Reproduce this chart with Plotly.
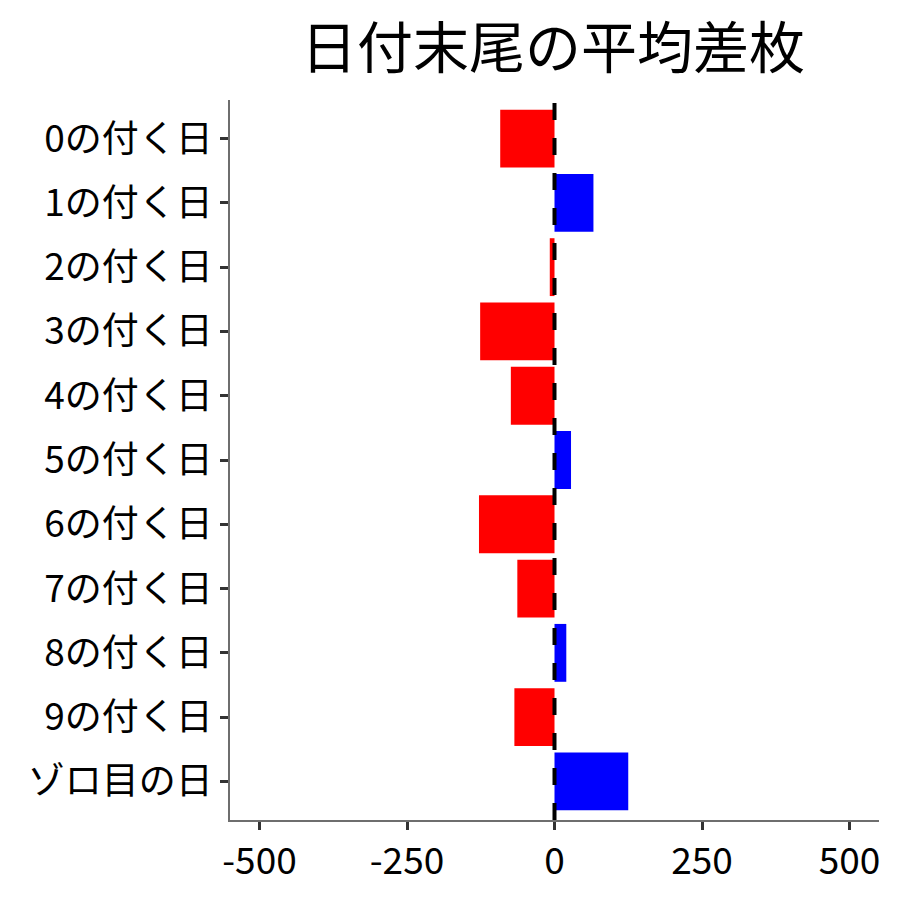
import plotly.graph_objects as go

# 日付末尾ごとの平均差枚
categories = ["0の付く日", "1の付く日", "2の付く日", "3の付く日", "4の付く日",
              "5の付く日", "6の付く日", "7の付く日", "8の付く日", "9の付く日",
              "ゾロ目の日"]
avg_diff = [-92, 66, -8, -126, -74, 28, -128, -63, 20, -68, 125]

x_ticks = [-500, -250, 0, 250, 500]

# プラスは青、マイナスは赤
colors = ["#0000FF" if v > 0 else "#FF0000" for v in avg_diff]

fig = go.Figure()

fig.add_trace(
    go.Bar(x=avg_diff, y=categories, orientation="h", width=0.9,
           marker=dict(color=colors, line=dict(width=0)))
)

# 0の位置に破線
fig.add_shape(type="line", xref="x", yref="paper", x0=0, x1=0, y0=0, y1=1,
              line=dict(color="black", width=4, dash="17px,18px"))

font_name = "Noto Sans CJK JP"

fig.update_layout(
    title=dict(text="日付末尾の平均差枚", x=0.6144, xanchor="center",
               y=0.946, yanchor="middle",
               font=dict(family=font_name, size=56, color="black")),
    font=dict(family=font_name, color="black"),
    plot_bgcolor="white",
    paper_bgcolor="white",
    showlegend=False,
    width=900,
    height=900,
    margin=dict(l=230, r=21, t=100, b=80),
    xaxis=dict(range=[-550, 550], tickvals=x_ticks, ticktext=[str(t) for t in x_ticks],
               showgrid=False, zeroline=False, showline=True, linecolor="#6e6e6e",
               linewidth=1.5, ticks="outside", ticklen=8, tickwidth=3,
               tickcolor="#333333", tickfont=dict(size=37, color="black")),
    yaxis=dict(categoryorder="array", categoryarray=categories,
               range=[10.6, -0.6], showgrid=False, zeroline=False,
               showline=True, linecolor="#6e6e6e", linewidth=1.5,
               ticks="outside", ticklen=8, tickwidth=3, tickcolor="#333333",
               tickfont=dict(size=37, color="black")),
)

# ページ余白をなくして図を左上に合わせる
fig.write_html("out.html", config={"displayModeBar": False},
               post_script="document.body.style.margin = '0';")
